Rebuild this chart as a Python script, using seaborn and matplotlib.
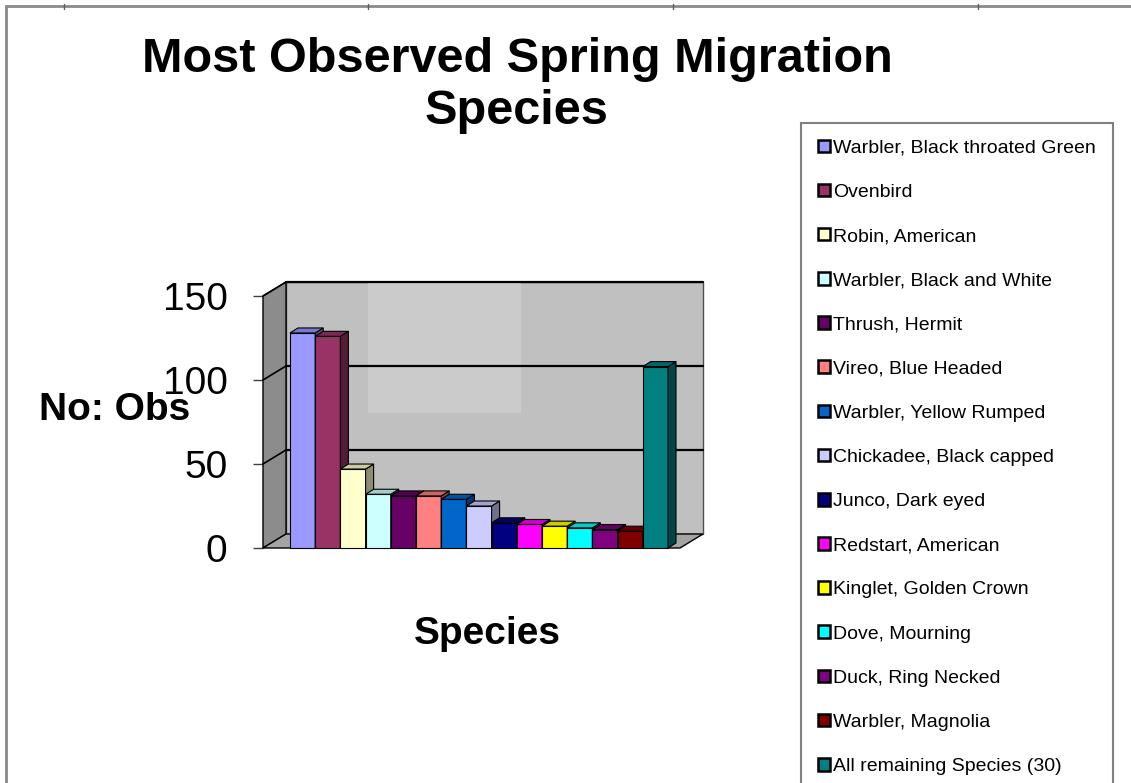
import matplotlib
matplotlib.use("Agg")
import matplotlib.pyplot as plt
import matplotlib.colors as mcolors
from matplotlib.patches import Polygon, Rectangle, Patch
from matplotlib.lines import Line2D
import pandas as pd
import seaborn as sns

# ---- data -------------------------------------------------------------
species = [
    "Warbler, Black throated Green",
    "Ovenbird",
    "Robin, American",
    "Warbler, Black and White",
    "Thrush, Hermit",
    "Vireo, Blue Headed",
    "Warbler, Yellow Rumped",
    "Chickadee, Black capped",
    "Junco, Dark eyed",
    "Redstart, American",
    "Kinglet, Golden Crown",
    "Dove, Mourning",
    "Duck, Ring Necked",
    "Warbler, Magnolia",
    "All remaining Species (30)",
]
observations = [128, 126, 47, 32, 31, 31, 29, 25, 15, 14, 13, 12, 11, 10, 108]
bar_colors = [
    "#9999FF", "#993366", "#FFFFCC", "#CCFFFF", "#660066",
    "#FF8080", "#0066CC", "#CCCCFF", "#000080", "#FF00FF",
    "#FFFF00", "#00FFFF", "#800080", "#800000", "#008080",
]
y_ticks = [0, 50, 100, 150]

title_text = "Most Observed Spring Migration\nSpecies"
y_label = "No: Obs"
x_label = "Species"

# ---- style ------------------------------------------------------------
sns.set_theme(style="white")
plt.rcParams["font.family"] = ["Liberation Sans", "DejaVu Sans"]
plt.rcParams["text.color"] = "black"
plt.rcParams["ytick.labelcolor"] = "black"

W, H = 1131, 783
fig = plt.figure(figsize=(W / 100, H / 100), dpi=100)
fig.patch.set_facecolor("white")


def frac_rect(x0, y0, x1, y1):
    """Pixel box (top-left origin) -> figure-fraction rect."""
    return [x0 / W, 1 - y1 / H, (x1 - x0) / W, (y1 - y0) / H]


def shade(color, k):
    r, g, b = mcolors.to_rgb(color)
    return (r * k, g * k, b * k)


# front plane of the 3-D box
ax = fig.add_axes(frac_rect(263, 296, 680, 548))
ax.patch.set_visible(False)

df = pd.DataFrame({"Species": species, "Obs": observations})
sns.barplot(
    data=df, x="Species", y="Obs", hue="Species",
    order=species, hue_order=species, palette=bar_colors,
    width=1.0, saturation=1, edgecolor="black", linewidth=0.8,
    legend=False, ax=ax,
)
bars = sorted([p for p in ax.patches if isinstance(p, Rectangle)],
              key=lambda p: p.get_x())

unit_px = 25.2
xl = -0.5 - 27 / unit_px
xr = xl + 417 / unit_px
ax.set_xlim(xl, xr)
ax.set_ylim(0, 150)

px_x = 417 / (xr - xl)
px_y = 252 / 150
wdx, wdy = 23 / px_x, 14 / px_y   # depth of the walls
bdx, bdy = 8 / px_x, 5 / px_y     # depth of each column

# back wall
ax.add_patch(Rectangle((xl + wdx, wdy), xr - xl, 150, facecolor="#C0C0C0",
                       edgecolor="#505050", lw=1, zorder=1, clip_on=False))
# lighter panel on the back wall
lx0 = xl + (368 - 263) / px_x
lx1 = xl + (521 - 263) / px_x
ly0 = (548 - 413) / px_y
ax.add_patch(Rectangle((lx0, ly0), lx1 - lx0, 150 + wdy - ly0,
                       facecolor="#CBCBCB", edgecolor="none", zorder=1.5,
                       clip_on=False))
# side wall
ax.add_patch(Polygon([(xl, 0), (xl, 150), (xl + wdx, 150 + wdy), (xl + wdx, wdy)],
                     closed=True, facecolor="#8C8C8C", edgecolor="black",
                     lw=1, zorder=2, clip_on=False))
# floor
ax.add_patch(Polygon([(xl, 0), (xr, 0), (xr + wdx, wdy), (xl + wdx, wdy)],
                     closed=True, facecolor="#A4A4A4", edgecolor="black",
                     lw=1, zorder=2, clip_on=False))
# gridlines on the back and side walls
for yv in y_ticks[1:]:
    ax.add_line(Line2D([xl + wdx, xr + wdx], [yv + wdy, yv + wdy],
                       color="black", lw=1.6, zorder=3, clip_on=False))
    ax.add_line(Line2D([xl, xl + wdx], [yv, yv + wdy],
                       color="black", lw=1.2, zorder=3, clip_on=False))

# columns: front face from seaborn, plus side and top faces
for i, p in enumerate(bars):
    x0, w, h = p.get_x(), p.get_width(), p.get_height()
    c = p.get_facecolor()
    base = 10 + 3 * i
    p.set_zorder(base)
    p.set_clip_on(False)
    ax.add_patch(Polygon([(x0 + w, 0), (x0 + w, h), (x0 + w + bdx, h + bdy), (x0 + w + bdx, bdy)],
                         closed=True, facecolor=shade(c, 0.55), edgecolor="black",
                         lw=0.8, zorder=base + 1, clip_on=False))
    ax.add_patch(Polygon([(x0, h), (x0 + w, h), (x0 + w + bdx, h + bdy), (x0 + bdx, h + bdy)],
                         closed=True, facecolor=shade(c, 0.8), edgecolor="black",
                         lw=0.8, zorder=base + 2, clip_on=False))

ax.set_xticks([])
ax.set_yticks(y_ticks)
ax.tick_params(axis="y", direction="out", length=7.5, width=1, color="#404040",
               labelsize=28, labelcolor="black", pad=18, left=True)
ax.set_xlabel("")
ax.set_ylabel("")
for s in ax.spines.values():
    s.set_visible(False)

# ---- texts ------------------------------------------------------------
fig.text(517 / W, 1 - 85 / H, title_text, ha="center", va="center",
         fontsize=35, fontweight="bold", linespacing=1.2, color="black")
fig.text(115 / W, 1 - 410 / H, y_label, ha="center", va="center",
         fontsize=28, fontweight="bold", zorder=20, color="black")
fig.text(487 / W, 1 - 634 / H, x_label, ha="center", va="center",
         fontsize=28, fontweight="bold", color="black")

# ---- legend -----------------------------------------------------------
handles = [Patch(facecolor=c, edgecolor="black", linewidth=1.8) for c in bar_colors]
leg = fig.legend(handles, species, loc="upper left",
                 bbox_to_anchor=(801 / W, 1 - 123 / H), bbox_transform=fig.transFigure,
                 frameon=True, fancybox=False, edgecolor="#808080", facecolor="white",
                 fontsize=14, handlelength=0.62, handleheight=0.62,
                 handletextpad=0.2, labelspacing=1.39, borderpad=0.85,
                 borderaxespad=0, labelcolor="black")
leg.get_frame().set_linewidth(1.5)
leg.get_frame().set_alpha(None)

# ---- outer frame ------------------------------------------------------
frame_kw = dict(color="#8A8A8A", lw=2, transform=fig.transFigure)
fig.add_artist(Line2D([6 / W, 6 / W], [0, 1 - 6 / H], **frame_kw))
fig.add_artist(Line2D([6 / W, 1], [1 - 6 / H, 1 - 6 / H], **frame_kw))
for tx in (64, 368, 673, 978):
    fig.add_artist(Line2D([tx / W, tx / W], [1 - 4 / H, 1 - 9 / H],
                          color="#606060", lw=1, transform=fig.transFigure))

fig.savefig("out.png", dpi=100)
